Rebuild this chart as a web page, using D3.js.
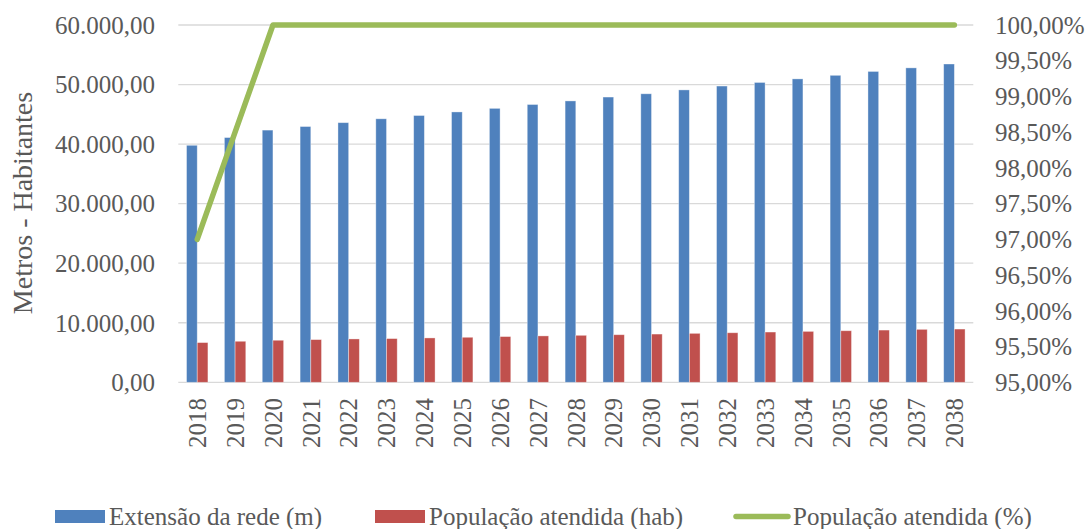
<!DOCTYPE html>
<html>
<head>
<meta charset="utf-8">
<script src="https://cdn.jsdelivr.net/npm/d3@7"></script>
<style>
  body { margin: 0; background: #fff; }
  text { font-family: "Liberation Serif", serif; fill: #595959; }
</style>
</head>
<body>
<svg id="chart" width="1088" height="529"></svg>
<script>
var years = ["2018","2019","2020","2021","2022","2023","2024","2025","2026","2027","2028",
             "2029","2030","2031","2032","2033","2034","2035","2036","2037","2038"];
var extensao = [39800, 41100, 42350, 42950, 43600, 44250, 44800, 45400, 46000, 46650, 47250,
                47900, 48450, 49100, 49750, 50350, 50950, 51550, 52200, 52800, 53450];
var populacao = [6670, 6890, 7060, 7170, 7280, 7340, 7450, 7560, 7680, 7790, 7890,
                 7990, 8100, 8220, 8320, 8440, 8550, 8660, 8770, 8890, 8940];
var percentual = [97.0, 98.5, 100, 100, 100, 100, 100, 100, 100, 100, 100,
                  100, 100, 100, 100, 100, 100, 100, 100, 100, 100];
var leftTicks = [0, 10000, 20000, 30000, 40000, 50000, 60000];
var rightTicks = [95, 95.5, 96, 96.5, 97, 97.5, 98, 98.5, 99, 99.5, 100];
var seriesNames = ["Extensão da rede (m)", "População atendida (hab)", "População atendida (%)"];
var colors = ["#4F81BD", "#C0504D", "#9BBB59"];

var svg = d3.select("#chart");
var plotLeft = 178.3, plotRight = 973.3, plotTop = 25, plotBottom = 382.3;

var x = d3.scaleBand().domain(years).range([plotLeft, plotRight]).paddingInner(0.435).paddingOuter(0.2175);
var xSub = d3.scaleBand().domain([0, 1]).range([0, x.bandwidth()]);
var y = d3.scaleLinear().domain([0, 60000]).range([plotBottom, plotTop]);
var y2 = d3.scaleLinear().domain([95, 100]).range([plotBottom, plotTop]);

var ptFmt = d3.formatLocale({decimal: ",", thousands: ".", grouping: [3], currency: ["", ""]});
var fmtLeft = ptFmt.format(",.2f");
var fmtRight = function(v){ return ptFmt.format(".2f")(v) + "%"; };

// gridlines
svg.append("g").selectAll("line").data(leftTicks).enter().append("line")
  .attr("x1", plotLeft).attr("x2", plotRight)
  .attr("y1", function(d){ return y(d); }).attr("y2", function(d){ return y(d); })
  .attr("stroke", "#D9D9D9").attr("stroke-width", 1.3);

// left axis labels
svg.append("g").selectAll("text").data(leftTicks).enter().append("text")
  .attr("x", 155).attr("y", function(d){ return y(d); }).attr("dy", "0.35em")
  .attr("text-anchor", "end").style("font-size", "25px")
  .text(fmtLeft);

// right axis labels
svg.append("g").selectAll("text").data(rightTicks).enter().append("text")
  .attr("x", 995).attr("y", function(d){ return y2(d); }).attr("dy", "0.35em")
  .attr("text-anchor", "start").style("font-size", "25px")
  .text(fmtRight);

// x labels
svg.append("g").selectAll("text").data(years).enter().append("text")
  .attr("transform", function(d){ return "translate(" + (x(d) + x.bandwidth()/2) + ",398) rotate(-90)"; })
  .attr("dy", "0.35em").attr("text-anchor", "end").style("font-size", "25px")
  .text(function(d){ return d; });

// y title
svg.append("text")
  .attr("transform", "translate(22,203) rotate(-90)")
  .attr("dy", "0.35em").attr("text-anchor", "middle").style("font-size", "28px")
  .text("Metros - Habitantes");

// bars
var barSeries = [extensao, populacao];
barSeries.forEach(function(vals, s){
  svg.append("g").selectAll("rect").data(vals).enter().append("rect")
    .attr("x", function(d, i){ return x(years[i]) + xSub(s); })
    .attr("y", function(d){ return y(d); })
    .attr("width", xSub.bandwidth())
    .attr("height", function(d){ return y(0) - y(d); })
    .attr("fill", colors[s])
    .attr("stroke", "rgba(255,255,255,0.45)").attr("stroke-width", 0.8);
});

// line
var line = d3.line()
  .x(function(d, i){ return x(years[i]) + x.bandwidth()/2; })
  .y(function(d){ return y2(d); });
svg.append("path").datum(percentual)
  .attr("d", line).attr("fill", "none")
  .attr("stroke", colors[2]).attr("stroke-width", 5.5)
  .attr("stroke-linecap", "round").attr("stroke-linejoin", "round");

// legend
var legend = svg.append("g");
var legX = [55, 375, 733];
legend.append("rect").attr("x", legX[0]).attr("y", 510).attr("width", 50).attr("height", 13).attr("fill", colors[0]);
legend.append("rect").attr("x", legX[1]).attr("y", 510).attr("width", 50).attr("height", 13).attr("fill", colors[1]);
legend.append("line").attr("x1", legX[2] + 3).attr("x2", legX[2] + 55).attr("y1", 516.5).attr("y2", 516.5)
  .attr("stroke", colors[2]).attr("stroke-width", 5.5).attr("stroke-linecap", "round");
var textX = [109, 429, 793];
seriesNames.forEach(function(n, i){
  legend.append("text").attr("x", textX[i]).attr("y", 516.5).attr("dy", "0.35em")
    .style("font-size", "25px").text(n);
});
</script>
</body>
</html>
